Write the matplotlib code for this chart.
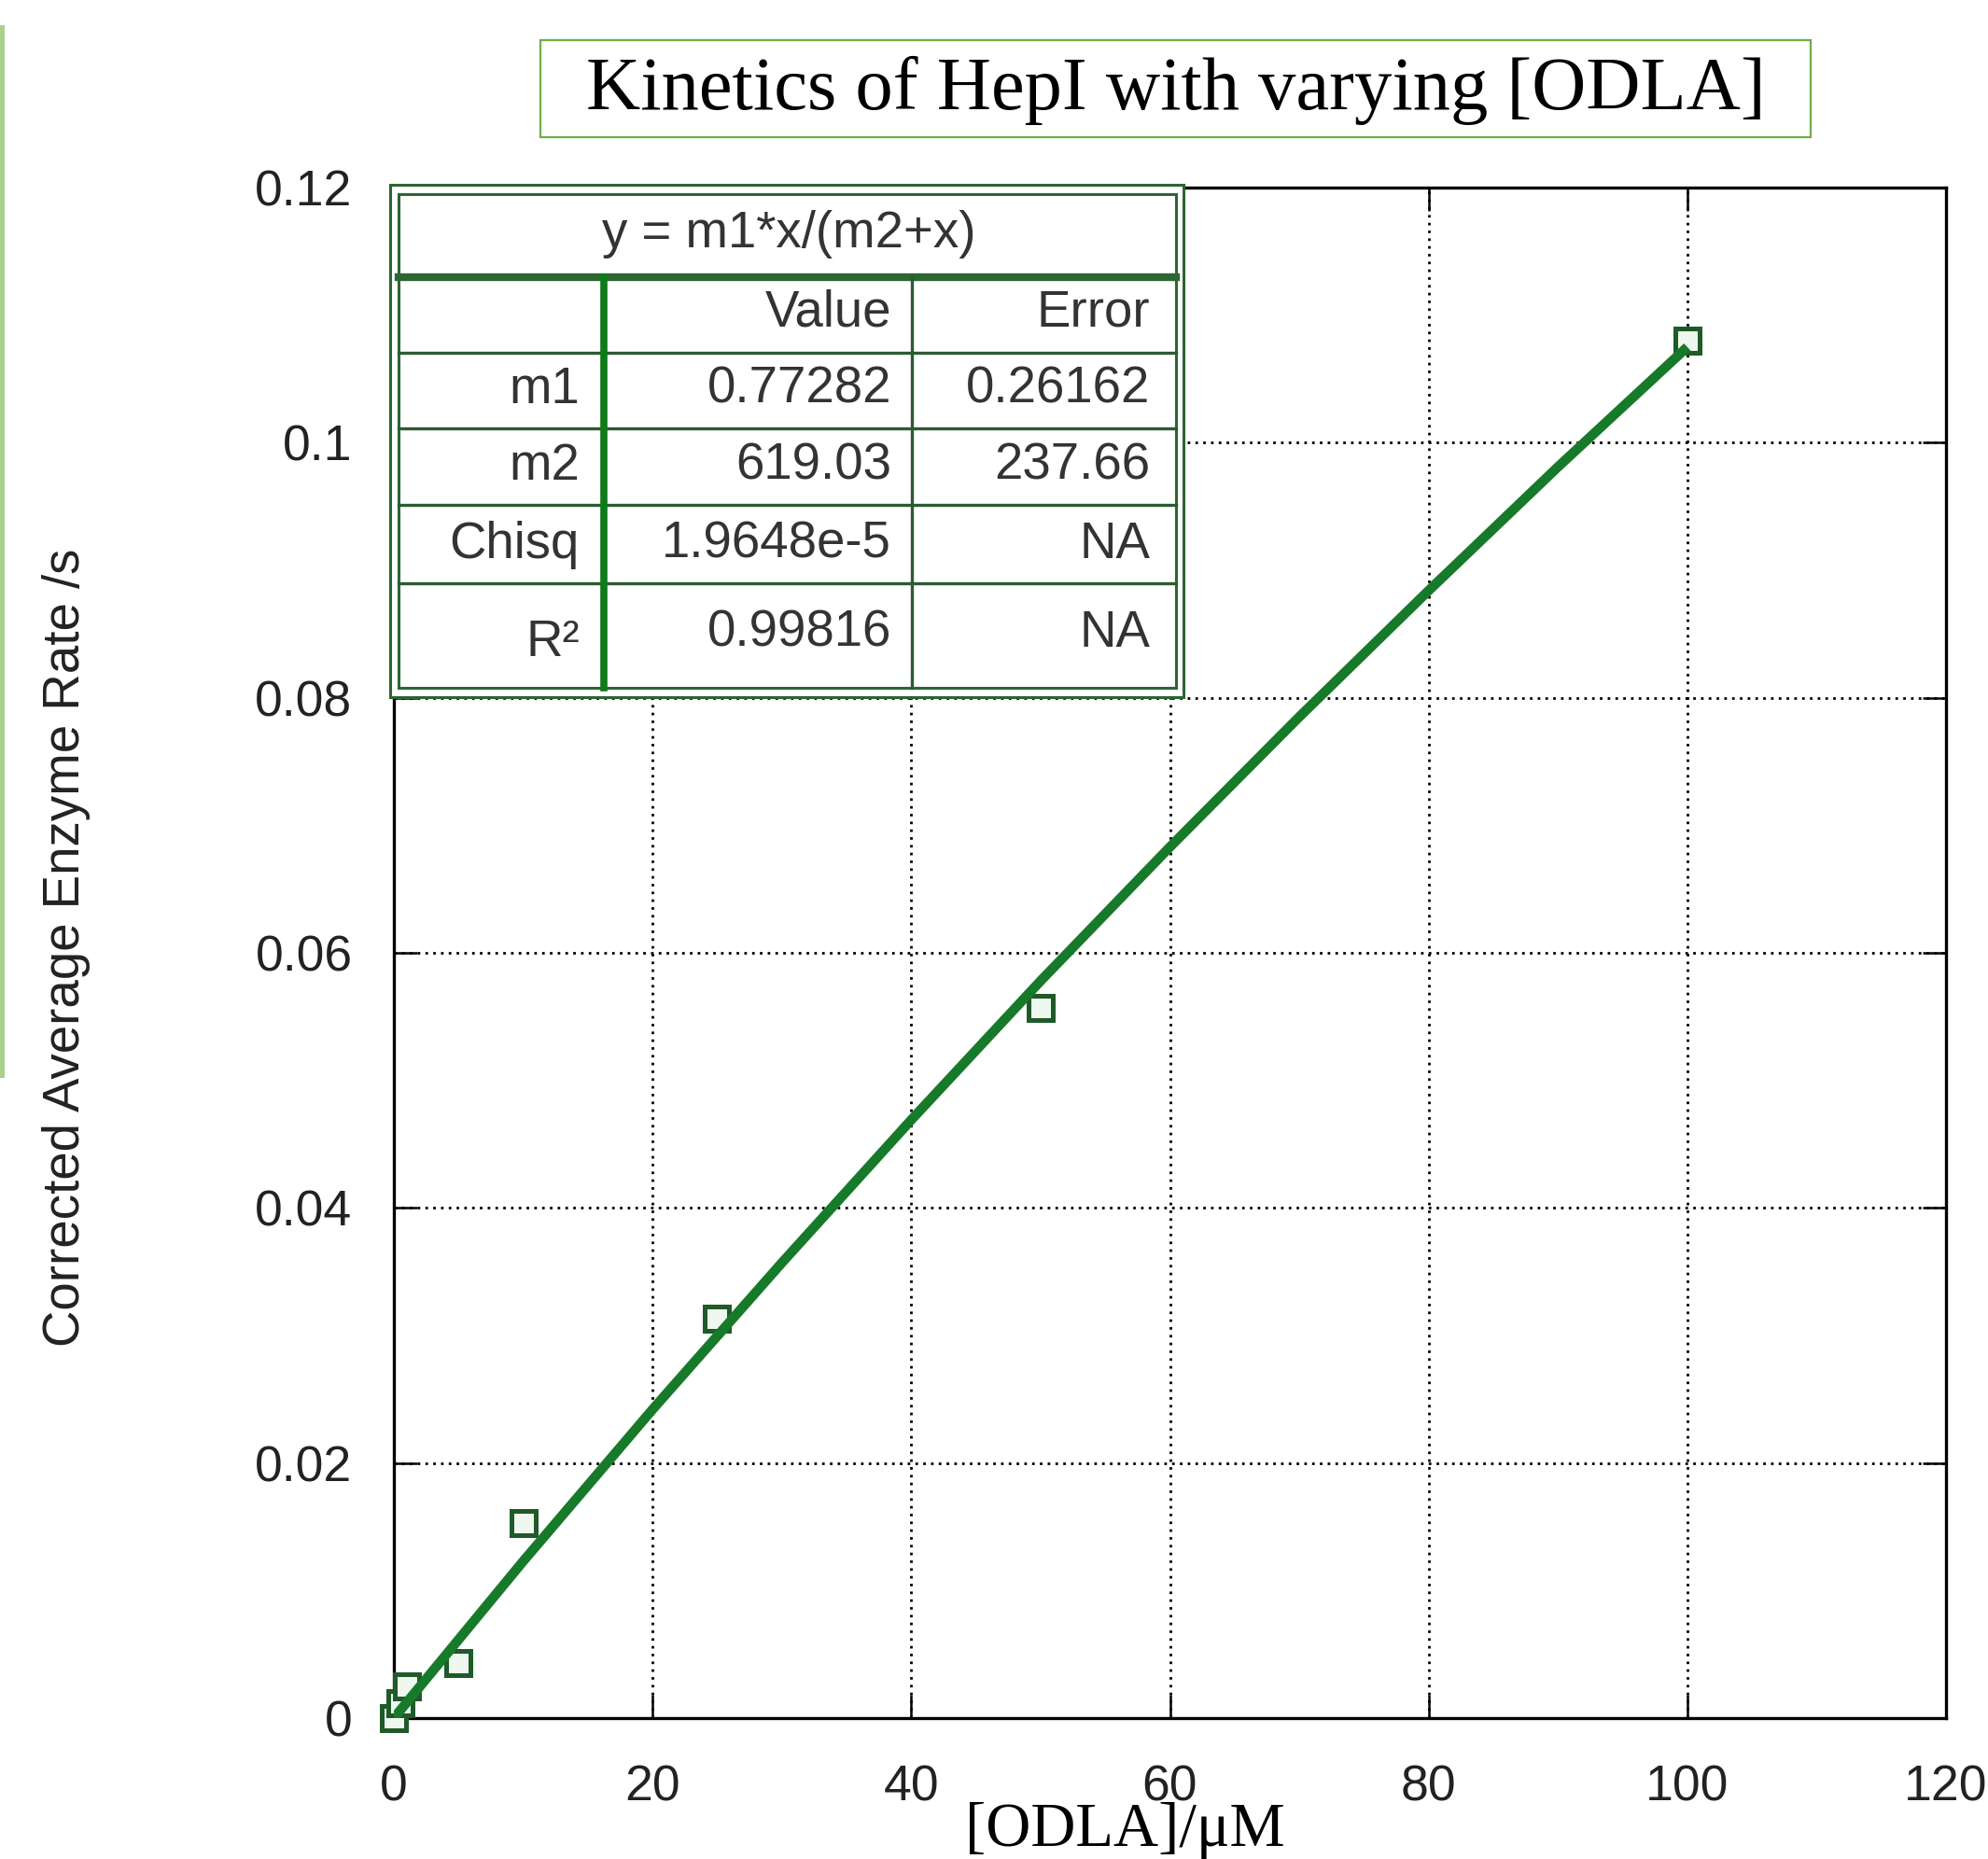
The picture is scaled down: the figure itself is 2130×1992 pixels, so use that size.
import matplotlib
matplotlib.use('Agg')
import matplotlib.pyplot as plt
from matplotlib import font_manager as fm
from matplotlib.patches import Rectangle

# Data
conc = [0, 0.5, 1, 5, 10, 25, 50, 100]  # [ODLA] / uM
rate = [0.0, 0.0012, 0.0025, 0.0043, 0.0153, 0.0313, 0.0557, 0.1080]  # corrected rate /s

# fitted curve as drawn (read at 10 uM steps)
fit_x = [0, 10, 20, 30, 40, 50, 60, 70, 80, 90, 100]
fit_y = [0.0, 0.0123, 0.0242, 0.0357, 0.0469, 0.0578, 0.0683, 0.0785, 0.0884, 0.0981, 0.1075]

xticks = [0, 20, 40, 60, 80, 100, 120]
yticks = [0, 0.02, 0.04, 0.06, 0.08, 0.1, 0.12]
ytick_labels = ['0', '0.02', '0.04', '0.06', '0.08', '0.1', '0.12']

# fit table
fit_formula = 'y = m1*x/(m2+x)'
tab_header = ['', 'Value', 'Error']
tab_names = ['m1', 'm2', 'Chisq', 'R\u00b2']
tab_values = ['0.77282', '619.03', '1.9648e-5', '0.99816']
tab_errors = ['0.26162', '237.66', 'NA', 'NA']

W, H = 2130, 1992
names = {f.name for f in fm.fontManager.ttflist}
if 'Liberation Sans Narrow' in names:
    sans, k = 'Liberation Sans Narrow', 1.0
else:
    sans, k = 'Liberation Sans', 0.82
serif = 'Liberation Serif'

fig = plt.figure(figsize=(W / 100, H / 100), dpi=100)
AX_L, AX_R, AX_T, AX_B = 422, 2085, 201, 1841
ax = fig.add_axes([AX_L / W, 1 - AX_B / H, (AX_R - AX_L) / W, (AX_B - AX_T) / H])

line_green = '#167a2a'
dark_green = '#2c6632'

ax.plot(conc, rate, 's', ms=19, mew=3.6, mec='#1f5a28', mfc='#eef8ee', zorder=3, clip_on=False)
ax.plot(fit_x, fit_y, '-', color=line_green, lw=7.5, zorder=4, solid_capstyle='butt')

ax.set_xlim(0, 120)
ax.set_ylim(0, 0.12)
ax.set_xticks(xticks)
ax.set_yticks(yticks)
ax.set_yticklabels(ytick_labels)
ax.grid(True, color='black', linestyle=(0, (1, 2)), lw=2)
ax.tick_params(direction='in', length=18, width=1.8, top=True, right=True,
               labelsize=47 * k, labelcolor='#222222')
ax.tick_params(axis='x', pad=36)
ax.tick_params(axis='y', pad=32)
for lab in ax.get_xticklabels() + ax.get_yticklabels():
    lab.set_fontfamily(sans)
for s in ax.spines.values():
    s.set_linewidth(2.4)
    s.set_color('black')


# table drawn in pixel positions converted to axes fractions
def fx(px):
    return (px - AX_L) / (AX_R - AX_L)


def fy(py):
    return (AX_B - py) / (AX_B - AX_T)


tr = ax.transAxes
ax.add_patch(Rectangle((fx(418), fy(747)), fx(1268) - fx(418), fy(198) - fy(747),
                       transform=tr, facecolor='white', edgecolor=dark_green, lw=2.2,
                       zorder=5, clip_on=False))
ax.add_patch(Rectangle((fx(427), fy(737)), fx(1260) - fx(427), fy(208) - fy(737),
                       transform=tr, facecolor='white', edgecolor=dark_green, lw=2.2,
                       zorder=5, clip_on=False))
ax.plot([fx(427), fx(1260)], [fy(297), fy(297)], transform=tr, color=dark_green,
        lw=6, zorder=6, clip_on=False)
for py in [378, 459, 541, 625]:
    ax.plot([fx(427), fx(1260)], [fy(py), fy(py)], transform=tr, color='#2d5a33',
            lw=2.4, zorder=6, clip_on=False)
ax.plot([fx(977), fx(977)], [fy(297), fy(737)], transform=tr, color='#2d5a33',
        lw=2.4, zorder=6, clip_on=False)
ax.plot([fx(647), fx(647)], [fy(297), fy(737)], transform=tr, color='#0f7a1a',
        lw=5.5, zorder=7, clip_on=False)

tk = dict(transform=tr, fontfamily=sans, fontsize=48 * k, color='#333333',
          va='center', zorder=8, clip_on=False)
ax.text(fx(845), fy(251), fit_formula, ha='center', **tk)
ax.text(fx(955), fy(336), tab_header[1], ha='right', **tk)
ax.text(fx(1232), fy(336), tab_header[2], ha='right', **tk)
row_y = [418, 500, 584, 679]
for name, val, err, py in zip(tab_names, tab_values, tab_errors, row_y):
    ax.text(fx(621), fy(py + (10 if name.startswith('R') else 0)), name, ha='right', **tk)
    ax.text(fx(955), fy(py), val, ha='right', **tk)
    ax.text(fx(1232), fy(py), err, ha='right', **tk)

# title box
fig.add_artist(Rectangle((579 / W, 1 - 147 / H), (1940 - 579) / W, 104 / H,
                         transform=fig.transFigure, facecolor='white',
                         edgecolor='#70ad47', lw=1.6))
fig.text(1259.5 / W, 1 - 97 / H, 'Kinetics of HepI with varying [ODLA]',
         ha='center', va='center', fontfamily=serif, fontsize=58, color='black')

# axis labels
fig.text(1205 / W, 1 - 1961 / H, '[ODLA]/\u03bcM', ha='center', va='center',
         fontfamily=serif, fontsize=48, color='black')
fig.text(71 / W, 1 - 1015 / H, 'Corrected Average Enzyme Rate /s', rotation=90,
         ha='center', va='center', fontfamily=sans, fontsize=48 * k, color='#222222')

# green edge at the left of the slide
fig.add_artist(Rectangle((0, 1 - 1155 / H), 5 / W, 1128 / H, transform=fig.transFigure,
                         facecolor='#a9d18e', edgecolor='none'))

fig.savefig('out.png', dpi=100)
